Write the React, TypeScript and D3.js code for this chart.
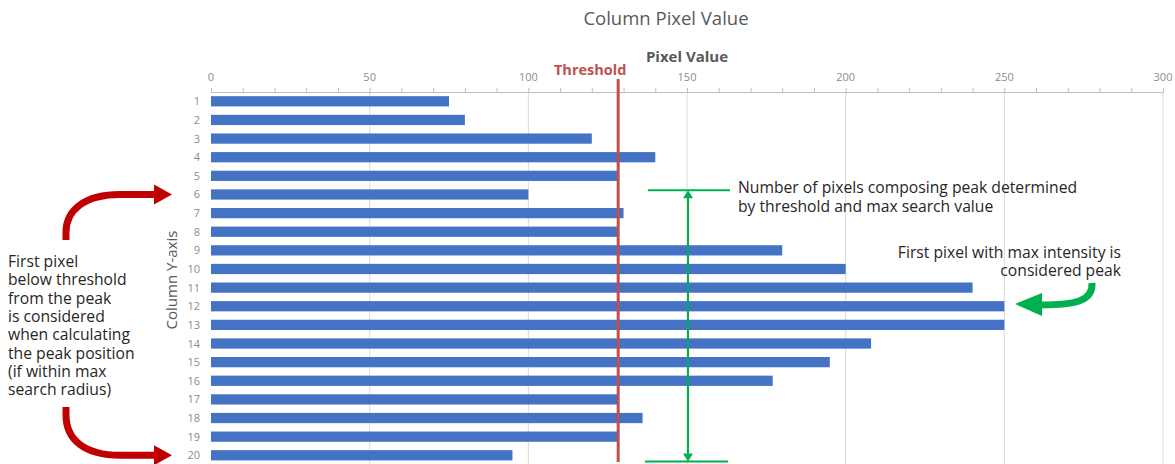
import { useEffect, useRef } from 'react';
import * as d3 from 'd3';

// rows of the image column (category axis) and their pixel intensity
const rows = ['1', '2', '3', '4', '5', '6', '7', '8', '9', '10', '11', '12', '13', '14', '15', '16', '17', '18', '19', '20'];
const pixelValues = [75, 80, 120, 140, 128, 100, 130, 128, 180, 200, 240, 250, 250, 208, 195, 177, 128, 136, 128, 95];
const xTicks = [0, 50, 100, 150, 200, 250, 300];
const threshold = 128;

const leftNote = [
  'First pixel',
  'below threshold',
  'from the peak',
  'is considered',
  'when calculating',
  'the peak position',
  '(if within max',
  'search radius)',
];
const spanNote = ['Number of pixels composing peak determined', 'by threshold and max search value'];
const peakNote = ['First pixel with max intensity is', 'considered peak'];

const W = 1175;
const H = 464;
const FONT = '"Open Sans", sans-serif';
const NOTE_SIZE = 15.7;

export default function App() {
  const ref = useRef<SVGSVGElement>(null);

  useEffect(() => {
    const svg = d3.select(ref.current);
    svg.selectAll('*').remove();

    const x = d3.scaleLinear().domain([0, 300]).range([211, 1163]);
    const y = d3.scaleBand().domain(rows).range([92, 92 + 20 * 18.63]).paddingInner(0.45).paddingOuter(0.225);

    // title + axis title
    svg.append('text')
      .attr('x', 666).attr('y', 25)
      .attr('text-anchor', 'middle')
      .attr('font-size', 18.5).attr('fill', '#595959')
      .text('Column Pixel Value');
    svg.append('text')
      .attr('x', 687).attr('y', 62)
      .attr('text-anchor', 'middle')
      .attr('font-size', 15).attr('font-weight', 'bold').attr('fill', '#595959')
      .text('Pixel Value');

    // vertical gridlines
    svg.append('g')
      .selectAll('line')
      .data(xTicks.slice(1))
      .join('line')
      .attr('x1', d => x(d)).attr('x2', d => x(d))
      .attr('y1', 92).attr('y2', H)
      .attr('stroke', '#d9d9d9').attr('stroke-width', 1);

    // top axis
    const axis = svg.append('g')
      .attr('transform', 'translate(0,92)')
      .call(d3.axisTop(x).tickValues(d3.range(0, 301, 10)).tickSize(4).tickFormat(() => ''));
    axis.select('.domain').attr('stroke', '#bfbfbf');
    axis.selectAll('.tick line').attr('stroke', '#bfbfbf');

    svg.append('g')
      .selectAll('text')
      .data(xTicks)
      .join('text')
      .attr('x', d => x(d)).attr('y', 81)
      .attr('text-anchor', 'middle')
      .attr('font-size', 11).attr('fill', '#8c8c8c')
      .text(d => d);

    // left category labels
    svg.append('g')
      .selectAll('text')
      .data(rows)
      .join('text')
      .attr('x', 200)
      .attr('y', d => (y(d) ?? 0) + y.bandwidth() / 2 + 4)
      .attr('text-anchor', 'end')
      .attr('font-size', 11).attr('fill', '#8c8c8c')
      .text(d => d);

    svg.append('text')
      .attr('transform', 'translate(177,280) rotate(-90)')
      .attr('text-anchor', 'middle')
      .attr('font-size', 15).attr('fill', '#595959')
      .text('Column Y-axis');

    // bars
    svg.append('g')
      .selectAll('rect')
      .data(rows)
      .join('rect')
      .attr('x', x(0))
      .attr('y', d => y(d) ?? 0)
      .attr('width', (d, i) => x(pixelValues[i]) - x(0))
      .attr('height', y.bandwidth())
      .attr('fill', '#4472c4');

    // threshold line
    svg.append('line')
      .attr('x1', x(threshold) + 1).attr('x2', x(threshold) + 1)
      .attr('y1', 79).attr('y2', 462)
      .attr('stroke', '#c0504d').attr('stroke-width', 3);
    svg.append('text')
      .attr('x', x(threshold) - 27).attr('y', 75)
      .attr('text-anchor', 'middle')
      .attr('font-size', 14.5).attr('font-weight', 'bold').attr('fill', '#c0504d')
      .text('Threshold');

    // green span marker
    const green = '#00b050';
    const gx = x(150) + 1;
    const top = (y('6') ?? 0) + 1;
    const bot = (y('20') ?? 0) + y.bandwidth() + 1;
    svg.append('line').attr('x1', gx - 40).attr('x2', gx + 42).attr('y1', top).attr('y2', top)
      .attr('stroke', green).attr('stroke-width', 2);
    svg.append('line').attr('x1', gx - 43).attr('x2', gx + 40).attr('y1', bot).attr('y2', bot)
      .attr('stroke', green).attr('stroke-width', 2);
    svg.append('line').attr('x1', gx).attr('x2', gx).attr('y1', top + 4).attr('y2', bot - 4)
      .attr('stroke', green).attr('stroke-width', 2);
    svg.append('path').attr('d', `M${gx},${top} l-5,8 l10,0 z`).attr('fill', green);
    svg.append('path').attr('d', `M${gx},${bot} l-5,-8 l10,0 z`).attr('fill', green);

    // notes
    svg.append('g')
      .selectAll('text')
      .data(spanNote)
      .join('text')
      .attr('x', 738).attr('y', (d, i) => 193 + i * 19)
      .attr('font-size', NOTE_SIZE).attr('fill', '#262626')
      .text(d => d);
    svg.append('g')
      .selectAll('text')
      .data(peakNote)
      .join('text')
      .attr('x', 1121).attr('y', (d, i) => 258 + i * 18)
      .attr('text-anchor', 'end')
      .attr('font-size', NOTE_SIZE).attr('fill', '#262626')
      .text(d => d);
    svg.append('g')
      .selectAll('text')
      .data(leftNote)
      .join('text')
      .attr('x', 8).attr('y', (d, i) => 267 + i * 18.3)
      .attr('font-size', NOTE_SIZE).attr('fill', '#262626')
      .text(d => d);

    // green curved arrow to the peak
    svg.append('path')
      .attr('d', 'M1092,283 C1093,300 1078,305 1040,305')
      .attr('fill', 'none').attr('stroke', green).attr('stroke-width', 7);
    svg.append('path').attr('d', 'M1015,304 L1042,293 L1042,316 Z').attr('fill', green);

    // red curved arrows pointing to row 6 and row 20
    const red = '#c00000';
    const r6 = (y('6') ?? 0) + y.bandwidth() / 2;
    const r20 = (y('20') ?? 0) + y.bandwidth() / 2;
    svg.append('path')
      .attr('d', `M66,240 L66,232 C66,210 85,${r6} 120,${r6} L156,${r6}`)
      .attr('fill', 'none').attr('stroke', red).attr('stroke-width', 7);
    svg.append('path').attr('d', `M172,${r6} L154,${r6 - 10} L154,${r6 + 10} Z`).attr('fill', red);
    svg.append('path')
      .attr('d', `M66,407 L66,415 C66,440 85,${r20} 120,${r20} L156,${r20}`)
      .attr('fill', 'none').attr('stroke', red).attr('stroke-width', 7);
    svg.append('path').attr('d', `M172,${r20} L154,${r20 - 10} L154,${r20 + 10} Z`).attr('fill', red);
  }, []);

  return (
    <svg
      ref={ref}
      width={W}
      height={H}
      style={{ position: 'absolute', left: 0, top: 0, background: '#fff', fontFamily: FONT }}
    />
  );
}
